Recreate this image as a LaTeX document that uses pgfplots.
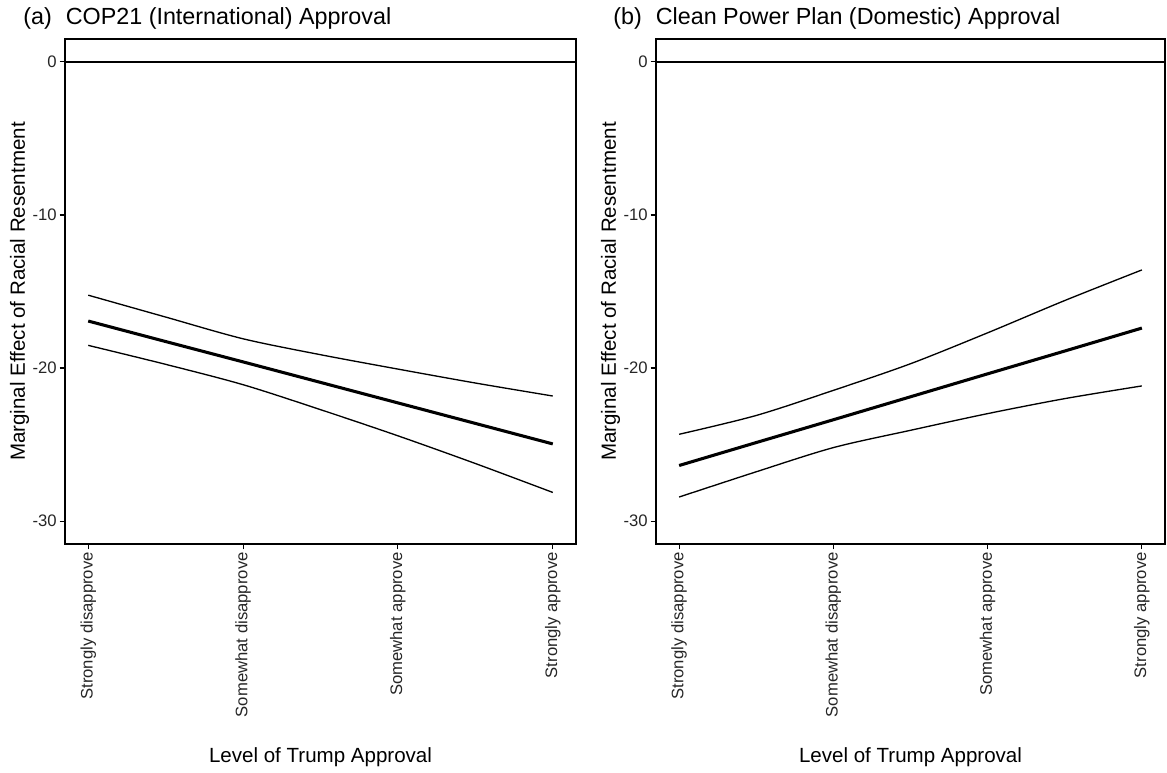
\documentclass[border=0pt]{standalone}
\usepackage{pgfplots}
\pgfplotsset{compat=1.18}
\usepackage{pgfplotstable}
\usepackage{fontspec}
\setmainfont{Liberation Sans}

% Marginal effect of racial resentment by level of Trump approval
% x: 0 = Strongly disapprove ... 3 = Strongly approve
\pgfplotstableread{
x    lo      est     hi
0   -18.52  -16.93  -15.24
0.5 -19.76  -18.27  -16.67
1   -21.09  -19.60  -18.09
1.5 -22.72  -20.94  -19.13
2   -24.43  -22.28  -20.07
2.5 -26.24  -23.62  -20.98
3   -28.13  -24.96  -21.83
}\copdata

\pgfplotstableread{
x    lo      est     hi
0   -28.43  -26.37  -24.33
0.5 -26.78  -24.87  -23.10
1   -25.20  -23.38  -21.46
1.5 -24.07  -21.88  -19.72
2   -22.98  -20.38  -17.70
2.5 -22.00  -18.89  -15.59
3   -21.17  -17.39  -13.59
}\cppdata

\pgfplotsset{
  me panel/.style={
    scale only axis,
    height=378.75pt,
    xmin=-0.15, xmax=3.15,
    ymin=-31.5, ymax=1.5,
    axis line style={black, line width=0.9pt},
    tick style={black, line width=0.8pt},
    tick align=outside,
    major tick length=4pt,
    xtick pos=bottom, ytick pos=left,
    xtick={0,1,2,3},
    xticklabels={Strongly disapprove, Somewhat disapprove, Somewhat approve, Strongly approve},
    ytick={-30,-20,-10,0},
    yticklabels={{-30},{-20},{-10},{0}},
    tick label style={font=\fontsize{12.5}{15}\selectfont, text=black!85},
    xticklabel style={rotate=90, anchor=east, inner sep=2pt},
    yticklabel style={inner sep=2pt},
    label style={font=\fontsize{15.4}{18}\selectfont},
    xlabel={Level of Trump Approval},
    ylabel={Marginal Effect of Racial Resentment},
    xlabel style={at={(axis description cs:0.5,0)}, anchor=base, yshift=-164pt},
    % the label is turned by 90 degrees, so its own y direction points left
    ylabel style={at={(axis description cs:0,0.5)}, anchor=center, yshift=34pt},
    clip=true,
  },
  ci/.style={black, line width=1pt, smooth, tension=0.5, no marks},
  est/.style={black, line width=2.3pt, no marks},
  zero/.style={black, line width=1.1pt, no marks},
}

\begin{document}
\begin{tikzpicture}
\useasboundingbox (0,0) rectangle (875.25pt,579pt);

\begin{axis}[me panel, at={(48.75pt,171pt)}, anchor=south west, width=383.25pt]
  \addplot[zero] coordinates {(-1,0) (4,0)};
  \addplot[ci] table[x=x, y=hi] {\copdata};
  \addplot[ci] table[x=x, y=lo] {\copdata};
  \addplot[est] table[x=x, y=est] {\copdata};
\end{axis}

\begin{axis}[me panel, at={(492pt,171pt)}, anchor=south west, width=381.75pt]
  \addplot[zero] coordinates {(-1,0) (4,0)};
  \addplot[ci] table[x=x, y=hi] {\cppdata};
  \addplot[ci] table[x=x, y=lo] {\cppdata};
  \addplot[est] table[x=x, y=est] {\cppdata};
\end{axis}

\node[anchor=base west, inner sep=0pt, font=\fontsize{17.5}{21}\selectfont]
  at (17.25pt,560.25pt) {(a)\hspace{0.6em}COP21 (International) Approval};
\node[anchor=base west, inner sep=0pt, font=\fontsize{17.5}{21}\selectfont]
  at (459.75pt,560.25pt) {(b)\hspace{0.6em}Clean Power Plan (Domestic) Approval};
\end{tikzpicture}
\end{document}
